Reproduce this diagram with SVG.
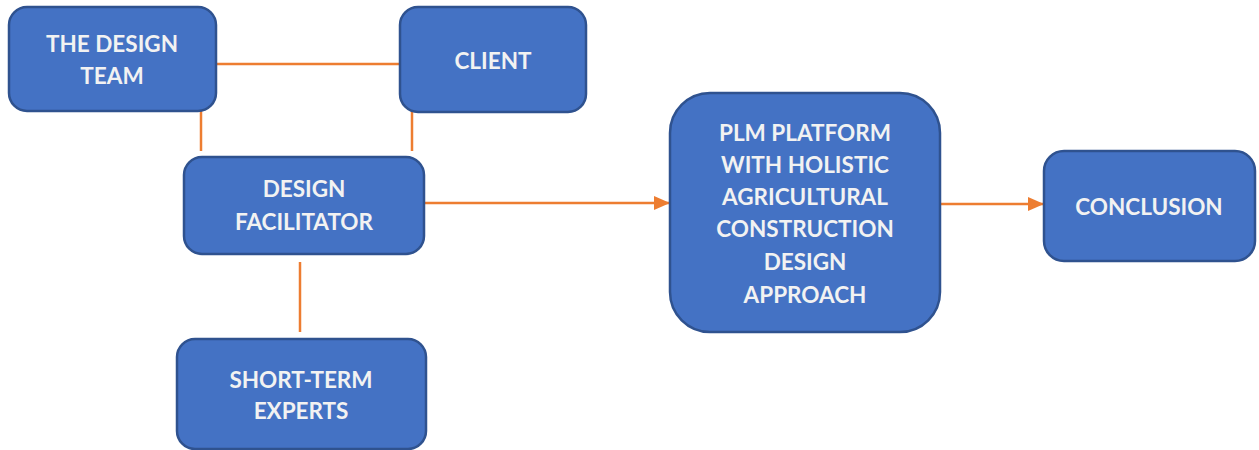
<svg xmlns="http://www.w3.org/2000/svg" width="1259" height="450" viewBox="0 0 1259 450">
<defs>
<style>
.box{fill:#4472C4;stroke:#2F528F;stroke-width:2.5}
.t{font-family:Lato,"Open Sans","Liberation Sans",sans-serif;font-weight:bold;font-size:22.5px;fill:#F2F2F2;text-anchor:middle}
.c{stroke:#ED7D31;stroke-width:2.5;fill:none}
</style>
<marker id="ah2" markerWidth="16" markerHeight="14" refX="16" refY="7" orient="auto" markerUnits="userSpaceOnUse" viewBox="0 0 16 14">
<path d="M0,0 L16,7 L0,14 z" fill="#ED7D31"/>
</marker>
</defs>
<rect width="1259" height="450" fill="#FFFFFF"/>
<g id="connectors">
<line class="c" x1="216" y1="64" x2="400" y2="64"/>
<line class="c" x1="201" y1="81" x2="201" y2="151"/>
<line class="c" x1="412" y1="79" x2="412" y2="151"/>
<line class="c" x1="300" y1="262" x2="300" y2="332"/>
<line class="c" x1="425" y1="203" x2="670" y2="203" marker-end="url(#ah2)"/>
<line class="c" x1="940" y1="204" x2="1044" y2="204" marker-end="url(#ah2)"/>
</g>
<g id="design-team">
<rect class="box" x="9" y="7" width="207" height="104" rx="18"/>
<text class="t" x="112" y="52">THE DESIGN</text>
<text class="t" x="112" y="84">TEAM</text>
</g>
<g id="client">
<rect class="box" x="400" y="7" width="186" height="105" rx="18"/>
<text class="t" x="493" y="69">CLIENT</text>
</g>
<g id="design-facilitator">
<rect class="box" x="184" y="157" width="240" height="97" rx="18"/>
<text class="t" x="304" y="197">DESIGN</text>
<text class="t" x="304" y="230">FACILITATOR</text>
</g>
<g id="short-term-experts">
<rect class="box" x="177" y="339" width="249" height="110" rx="18"/>
<text class="t" x="301" y="388">SHORT-TERM</text>
<text class="t" x="301" y="419">EXPERTS</text>
</g>
<g id="plm-platform">
<rect class="box" x="670" y="93" width="270" height="239" rx="40"/>
<text class="t" x="805" y="141">PLM PLATFORM</text>
<text class="t" x="805" y="173">WITH HOLISTIC</text>
<text class="t" x="805" y="205">AGRICULTURAL</text>
<text class="t" x="805" y="237">CONSTRUCTION</text>
<text class="t" x="805" y="270">DESIGN</text>
<text class="t" x="805" y="303">APPROACH</text>
</g>
<g id="conclusion">
<rect class="box" x="1044" y="151" width="211" height="110" rx="20"/>
<text class="t" x="1149" y="215">CONCLUSION</text>
</g>
</svg>
